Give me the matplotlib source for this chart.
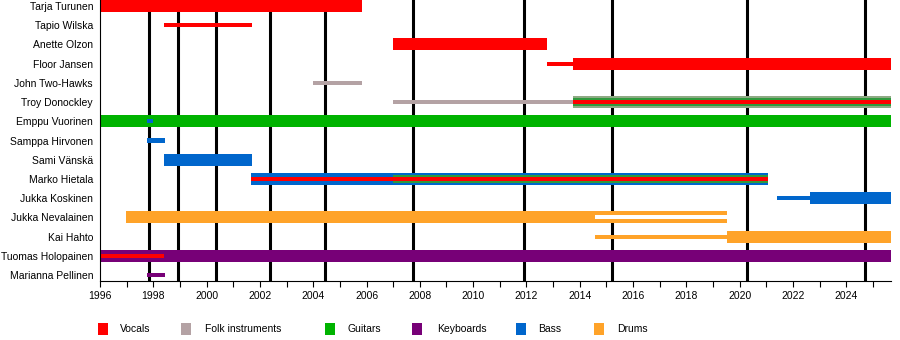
import matplotlib
matplotlib.use("Agg")
import matplotlib.pyplot as plt
from matplotlib.patches import Rectangle

plt.rcParams['font.family'] = ['Liberation Sans', 'DejaVu Sans']

# role colours
VOCALS = '#ff0000'
FOLK = '#b4a2a4'
GUITARS = '#00b300'
KEYBOARDS = '#770077'
BASS = '#0066cc'
DRUMS = '#ffa329'
FOLK_MIX = '#8eaa84'
GUITAR_MIX = '#2f9a3c'

members = ['Tarja Turunen', 'Tapio Wilska', 'Anette Olzon', 'Floor Jansen',
           'John Two-Hawks', 'Troy Donockley', 'Emppu Vuorinen',
           'Samppa Hirvonen', 'Sami Vänskä', 'Marko Hietala',
           'Jukka Koskinen', 'Jukka Nevalainen', 'Kai Hahto',
           'Tuomas Holopainen', 'Marianna Pellinen']

# (member, start, end, colour, bar kind) -- later entries are drawn on top
periods = [
    ('Tarja Turunen', 1996.0, 2005.83, VOCALS, 'thick'),
    ('Tapio Wilska', 1998.40, 2001.70, VOCALS, 'thin'),
    ('Anette Olzon', 2007.0, 2012.77, VOCALS, 'thick'),
    ('Floor Jansen', 2012.77, 2013.75, VOCALS, 'thin'),
    ('Floor Jansen', 2013.75, 2025.68, VOCALS, 'thick'),
    ('John Two-Hawks', 2004.0, 2005.83, FOLK, 'thin'),
    ('Troy Donockley', 2007.0, 2013.75, FOLK, 'thin'),
    ('Troy Donockley', 2013.75, 2025.68, FOLK_MIX, 'thick'),
    ('Troy Donockley', 2013.75, 2025.68, GUITAR_MIX, 'mid'),
    ('Troy Donockley', 2013.75, 2025.68, VOCALS, 'thin'),
    ('Emppu Vuorinen', 1996.0, 2025.68, GUITARS, 'thick'),
    ('Emppu Vuorinen', 1997.76, 1997.98, BASS, 'thin'),
    ('Samppa Hirvonen', 1997.76, 1998.44, BASS, 'thin'),
    ('Sami Vänskä', 1998.40, 2001.70, BASS, 'thick'),
    ('Marko Hietala', 2001.67, 2021.05, BASS, 'thick'),
    ('Marko Hietala', 2007.0, 2021.05, GUITAR_MIX, 'mid'),
    ('Marko Hietala', 2001.67, 2021.05, VOCALS, 'thin'),
    ('Jukka Koskinen', 2021.40, 2022.65, BASS, 'thin'),
    ('Jukka Koskinen', 2022.65, 2025.68, BASS, 'thick'),
    ('Jukka Nevalainen', 1996.98, 2019.53, DRUMS, 'thick'),
    ('Jukka Nevalainen', 2014.57, 2019.53, 'white', 'thin'),
    ('Kai Hahto', 2014.57, 2019.53, DRUMS, 'thin'),
    ('Kai Hahto', 2019.53, 2025.68, DRUMS, 'thick'),
    ('Tuomas Holopainen', 1996.0, 2025.68, KEYBOARDS, 'thick'),
    ('Tuomas Holopainen', 1996.0, 1998.40, VOCALS, 'thin'),
    ('Marianna Pellinen', 1997.76, 1998.44, KEYBOARDS, 'thin'),
]

# studio album release dates
albums = [1997.83, 1998.93, 2000.37, 2002.39, 2004.43,
          2007.73, 2011.91, 2015.23, 2020.27, 2024.72]

legend_labels = ['Vocals', 'Folk instruments', 'Guitars',
                 'Keyboards', 'Bass', 'Drums']
legend_colors = [VOCALS, FOLK, GUITARS, KEYBOARDS, BASS, DRUMS]

x_start, x_end = 1996.0, 2025.68
heights = {'thick': 0.63, 'mid': 0.44, 'thin': 0.21}

fig = plt.figure(figsize=(9, 3.4), dpi=100)
ax = fig.add_axes([100 / 900, 59 / 340, 791 / 900, 281 / 340])

for d in albums:
    ax.axvline(d, color='black', lw=2.2, zorder=1)

for name, start, end, col, kind in periods:
    ax.barh(members.index(name), end - start, left=start,
            height=heights[kind], color=col, linewidth=0, zorder=2)

ax.set_xlim(x_start, x_end)
ax.set_ylim(len(members) - 1 + 0.31, -0.31)
ax.set_yticks(range(len(members)))
ax.set_yticklabels(members, fontsize=7.5)
ax.tick_params(axis='y', length=0, pad=5)
ax.set_xticks(range(1996, 2026, 2))
ax.set_xticks(range(1996, 2026), minor=True)
ax.tick_params(axis='x', which='both', direction='out', length=4,
               width=0.8, labelsize=7.5, pad=3)
for s in ('top', 'right'):
    ax.spines[s].set_visible(False)
ax.spines['left'].set_linewidth(0.8)
ax.spines['bottom'].set_linewidth(0.8)

# legend row under the axis
sq_x = [98, 181, 325, 412, 516, 594]
txt_x = [120, 205, 348, 437, 538, 617]
for sx, tx, lab, col in zip(sq_x, txt_x, legend_labels, legend_colors):
    fig.patches.append(Rectangle((sx / 900, (340 - 335) / 340), 10 / 900,
                                 12 / 340, transform=fig.transFigure,
                                 color=col, linewidth=0))
    fig.text(tx / 900, (340 - 329) / 340, lab, fontsize=7.5,
             va='center', ha='left')

fig.savefig('out.png', dpi=100)
